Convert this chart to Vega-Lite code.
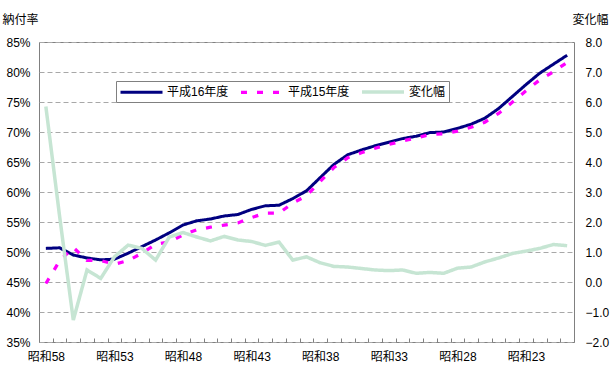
{
  "$schema": "https://vega.github.io/schema/vega-lite/v6.json",
  "width": 535,
  "height": 300,
  "autosize": "none",
  "padding": {"left": 39, "top": 42, "right": 36, "bottom": 28},
  "background": "white",
  "config": {
    "font": "Liberation Sans, Noto Sans CJK JP",
    "view": {"stroke": "#808080", "strokeWidth": 1}
  },
  "data": {
    "values": [
      {"年": "昭和58", "平成16年度": 50.6, "平成15年度": 44.75, "変化幅": 5.85},
      {"年": "昭和57", "平成16年度": 50.7, "平成15年度": 48.5, "変化幅": 2.2},
      {"年": "昭和56", "平成16年度": 49.5, "平成15年度": 50.77, "変化幅": -1.27},
      {"年": "昭和55", "平成16年度": 49.0, "平成15年度": 48.6, "変化幅": 0.4},
      {"年": "昭和54", "平成16年度": 48.7, "平成15年度": 48.58, "変化幅": 0.12},
      {"年": "昭和53", "平成16年度": 48.8, "平成15年度": 47.96, "変化幅": 0.84},
      {"年": "昭和52", "平成16年度": 49.8, "平成15年度": 48.57, "変化幅": 1.23},
      {"年": "昭和51", "平成16年度": 50.9, "平成15年度": 49.78, "変化幅": 1.12},
      {"年": "昭和50", "平成16年度": 52.0, "平成15年度": 51.27, "変化幅": 0.73},
      {"年": "昭和49", "平成16年度": 53.2, "平成15年度": 51.7, "変化幅": 1.5},
      {"年": "昭和48", "平成16年度": 54.5, "平成15年度": 52.85, "変化幅": 1.65},
      {"年": "昭和47", "平成16年度": 55.2, "平成15年度": 53.7, "変化幅": 1.5},
      {"年": "昭和46", "平成16年度": 55.5, "平成15年度": 54.13, "変化幅": 1.37},
      {"年": "昭和45", "平成16年度": 56.0, "平成15年度": 54.48, "変化幅": 1.52},
      {"年": "昭和44", "平成16年度": 56.25, "平成15年度": 54.85, "変化幅": 1.4},
      {"年": "昭和43", "平成16年度": 57.1, "平成15年度": 55.75, "変化幅": 1.35},
      {"年": "昭和42", "平成16年度": 57.7, "平成15年度": 56.48, "変化幅": 1.22},
      {"年": "昭和41", "平成16年度": 57.8, "平成15年度": 56.47, "変化幅": 1.33},
      {"年": "昭和40", "平成16年度": 58.9, "平成15年度": 58.17, "変化幅": 0.73},
      {"年": "昭和39", "平成16年度": 60.2, "平成15年度": 59.36, "変化幅": 0.84},
      {"年": "昭和38", "平成16年度": 62.4, "平成15年度": 61.76, "変化幅": 0.64},
      {"年": "昭和37", "平成16年度": 64.6, "平成15年度": 64.08, "変化幅": 0.52},
      {"年": "昭和36", "平成16年度": 66.2, "平成15年度": 65.7, "変化幅": 0.5},
      {"年": "昭和35", "平成16年度": 67.0, "平成15年度": 66.55, "変化幅": 0.45},
      {"年": "昭和34", "平成16年度": 67.7, "平成15年度": 67.3, "変化幅": 0.4},
      {"年": "昭和33", "平成16年度": 68.3, "平成15年度": 67.92, "変化幅": 0.38},
      {"年": "昭和32", "平成16年度": 68.9, "平成15年度": 68.5, "変化幅": 0.4},
      {"年": "昭和31", "平成16年度": 69.3, "平成15年度": 69.01, "変化幅": 0.29},
      {"年": "昭和30", "平成16年度": 69.9, "平成15年度": 69.58, "変化幅": 0.32},
      {"年": "昭和29", "平成16年度": 70.0, "平成15年度": 69.71, "変化幅": 0.29},
      {"年": "昭和28", "平成16年度": 70.6, "平成15年度": 70.14, "変化幅": 0.46},
      {"年": "昭和27", "平成16年度": 71.3, "平成15年度": 70.8, "変化幅": 0.5},
      {"年": "昭和26", "平成16年度": 72.3, "平成15年度": 71.63, "変化幅": 0.67},
      {"年": "昭和25", "平成16年度": 73.9, "平成15年度": 73.1, "変化幅": 0.8},
      {"年": "昭和24", "平成16年度": 75.9, "平成15年度": 74.95, "変化幅": 0.95},
      {"年": "昭和23", "平成16年度": 77.9, "平成15年度": 76.87, "変化幅": 1.03},
      {"年": "昭和22", "平成16年度": 79.8, "平成15年度": 78.68, "変化幅": 1.12},
      {"年": "昭和21", "平成16年度": 81.3, "平成15年度": 80.05, "変化幅": 1.25},
      {"年": "昭和20", "平成16年度": 82.8, "平成15年度": 81.59, "変化幅": 1.21}
    ]
  },
  "encoding": {
    "x": {
      "field": "年",
      "type": "ordinal",
      "sort": null,
      "scale": {"paddingInner": 0, "paddingOuter": 0},
      "axis": {
        "title": null,
        "domain": false,
        "grid": false,
        "offset": -4,
        "tickBand": "extent",
        "tickSize": 4,
        "tickColor": "#808080",
        "labelPadding": 9,
        "labelAngle": 0,
        "labelFontSize": 12,
        "labelColor": "black",
        "labelOverlap": false,
        "labelBound": false,
        "labelExpr": "indexof(['昭和58','昭和53','昭和48','昭和43','昭和38','昭和33','昭和28','昭和23'], datum.value) >= 0 ? datum.value : ''"
      }
    }
  },
  "layer": [
    {
      "transform": [{"fold": ["平成16年度", "平成15年度"], "as": ["系列", "値"]}],
      "mark": {"type": "line"},
      "encoding": {
        "y": {
          "field": "値",
          "type": "quantitative",
          "scale": {"domain": [35, 85], "nice": false, "zero": false},
          "axis": {
            "values": [35, 40, 45, 50, 55, 60, 65, 70, 75, 80, 85],
            "labelExpr": "datum.value + '%'",
            "grid": true,
            "gridDash": [5, 3],
            "gridColor": "#a8a8a8",
            "ticks": false,
            "domain": false,
            "labelPadding": 9,
            "labelFontSize": 12,
            "labelColor": "black",
            "title": "納付率",
            "titleAngle": 0,
            "titleX": -19,
            "titleY": -23,
            "titleAlign": "center",
            "titleBaseline": "middle",
            "titleFontWeight": "normal",
            "titleFontSize": 12,
            "titleColor": "black"
          }
        },
        "color": {
          "field": "系列",
          "type": "nominal",
          "scale": {"domain": ["平成16年度", "平成15年度", "変化幅"], "range": ["#000080", "#ff00ff", "#c6e5d3"]},
          "legend": {
            "orient": "none",
            "legendX": 77,
            "legendY": 39,
            "direction": "horizontal",
            "title": null,
            "symbolType": "M-1,0H6",
            "symbolSize": 144,
            "labelFontSize": 12,
            "labelColor": "black",
            "labelOffset": 33,
            "columnPadding": 5,
            "padding": 3,
            "fillColor": "white",
            "strokeColor": "#808080"
          }
        },
        "strokeDash": {
          "field": "系列",
          "type": "nominal",
          "scale": {"domain": ["平成16年度", "平成15年度", "変化幅"], "range": [[1, 0], [6, 10], [1, 0]]}
        },
        "strokeWidth": {
          "field": "系列",
          "type": "nominal",
          "scale": {"domain": ["平成16年度", "平成15年度", "変化幅"], "range": [3, 3.5, 5]}
        }
      }
    },
    {
      "transform": [{"fold": ["変化幅"], "as": ["系列", "値"]}],
      "mark": {"type": "line"},
      "encoding": {
        "y": {
          "field": "値",
          "type": "quantitative",
          "scale": {"domain": [-2, 8], "nice": false, "zero": false},
          "axis": {
            "orient": "right",
            "values": [-2, -1, 0, 1, 2, 3, 4, 5, 6, 7, 8],
            "format": ".1f",
            "grid": false,
            "ticks": false,
            "domain": false,
            "labelPadding": 11,
            "labelFontSize": 12,
            "labelColor": "black",
            "title": "変化幅",
            "titleAngle": 0,
            "titleX": 16,
            "titleY": -23,
            "titleAlign": "center",
            "titleBaseline": "middle",
            "titleFontWeight": "normal",
            "titleFontSize": 12,
            "titleColor": "black"
          }
        },
        "color": {"field": "系列", "type": "nominal"},
        "strokeDash": {"field": "系列", "type": "nominal"},
        "strokeWidth": {"field": "系列", "type": "nominal"}
      }
    }
  ],
  "resolve": {"scale": {"y": "independent"}}
}
